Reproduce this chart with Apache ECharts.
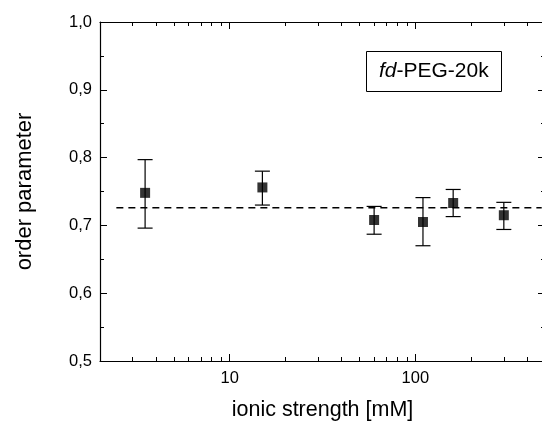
<!DOCTYPE html>
<html>
<head>
<meta charset="utf-8">
<script src="https://cdn.jsdelivr.net/npm/echarts@6/dist/echarts.min.js"></script>
<style>html,body{margin:0;padding:0;background:#fff}#c{width:542px;height:421px}</style>
</head>
<body>
<div id="c"></div>
<script>
// ---- data ----
var ionicStrength = [3.5, 15, 60, 110, 160, 300];
var orderParam    = [0.748, 0.756, 0.708, 0.705, 0.733, 0.715];
var errLow        = [0.696, 0.730, 0.687, 0.670, 0.713, 0.694];
var errHigh       = [0.797, 0.780, 0.728, 0.741, 0.753, 0.734];
var meanLevel     = 0.726;
var meanRangeX    = [2.45, 480];
var xMajorTicks   = [10, 100];
var xMinorTicks   = [3,4,5,6,7,8,9,20,30,40,50,60,70,80,90,200,300,400];
var xLabel = 'ionic strength [mM]';
var yLabel = 'order parameter';

var FONT = "'Liberation Sans', Arial, Helvetica, sans-serif";
var chart = echarts.init(document.getElementById('c'), null, {renderer:'canvas'});

function logAxis(pos, ticks, len, showLine, labels, extra){
  var a = {
    type:'log', logBase:10, min:2, max:500, position:pos, gridIndex:0,
    axisLine:{show:showLine, onZero:false, lineStyle:{color:'#000', width:1.2}},
    axisTick:{show:true, inside:true, length:len, customValues:ticks, lineStyle:{color:'#000', width:1}},
    axisLabel:{show:labels, customValues:labels ? ticks : undefined, fontFamily:FONT, fontSize:16.5, color:'#000', margin:9},
    splitLine:{show:false}, minorTick:{show:false}
  };
  if (extra) for (var k in extra) a[k] = extra[k];
  return a;
}
function valAxis(pos, labels, extra){
  var a = {
    type:'value', min:0.5, max:1.0, interval:0.1, position:pos, gridIndex:0,
    axisLine:{show:true, onZero:false, lineStyle:{color:'#000', width:1.2}},
    axisTick:{show:true, inside:true, length:7, lineStyle:{color:'#000', width:1}},
    minorTick:{show:true, splitNumber:2, length:4, lineStyle:{color:'#000', width:1}},
    axisLabel:{show:labels, fontFamily:FONT, fontSize:16.5, color:'#000', margin:8,
      formatter:function(v){return v.toFixed(1).replace('.', ',');}},
    splitLine:{show:false}
  };
  if (extra) for (var k in extra) a[k] = extra[k];
  return a;
}

var scatterData = ionicStrength.map(function(x,i){return [x, orderParam[i]];});
var errData = ionicStrength.map(function(x,i){return [x, errLow[i], errHigh[i]];});

chart.setOption({
  animation:false,
  backgroundColor:'#fff',
  title:{
    text:'{i|fd}-PEG-20k', left:366, top:51,
    padding:[10, 13, 10, 13],
    borderColor:'#000', borderWidth:1,
    textStyle:{fontFamily:FONT, fontSize:21, fontWeight:'normal', color:'#000',
      rich:{i:{fontFamily:FONT, fontSize:21, fontStyle:'italic', color:'#000'}}}
  },
  grid:{left:100, top:22, right:-3, bottom:60, containLabel:false, outerBoundsMode:'none'},
  xAxis:[
    logAxis('bottom', xMajorTicks, 7, true, true, {name:xLabel, nameLocation:'middle', nameGap:38,
      nameTextStyle:{fontFamily:FONT, fontSize:21.5, color:'#000'}}),
    logAxis('bottom', xMinorTicks, 4, false, false),
    logAxis('top', xMajorTicks, 7, true, false),
    logAxis('top', xMinorTicks, 4, false, false)
  ],
  yAxis:[
    valAxis('left', true, {name:yLabel, nameLocation:'middle', nameGap:64, nameRotate:90,
      nameTextStyle:{fontFamily:FONT, fontSize:22, color:'#000'}}),
    valAxis('right', false)
  ],
  series:[
    {type:'line', xAxisIndex:0, yAxisIndex:0, data:[[meanRangeX[0], meanLevel],[meanRangeX[1], meanLevel]],
      symbol:'none', lineStyle:{color:'#000', width:1.3, type:[7,5]}, z:1},
    {type:'custom', xAxisIndex:0, yAxisIndex:0, data:errData, encode:{x:0, y:[1,2]}, z:2,
      renderItem:function(params, api){
        var x = api.value(0);
        var lo = api.coord([x, api.value(1)]);
        var hi = api.coord([x, api.value(2)]);
        var hw = 7.5;
        var st = {stroke:'#000', lineWidth:1.2};
        return {type:'group', children:[
          {type:'line', shape:{x1:lo[0], y1:lo[1], x2:hi[0], y2:hi[1]}, style:st},
          {type:'line', shape:{x1:lo[0]-hw, y1:lo[1], x2:lo[0]+hw, y2:lo[1]}, style:st},
          {type:'line', shape:{x1:hi[0]-hw, y1:hi[1], x2:hi[0]+hw, y2:hi[1]}, style:st}
        ]};
      }},
    {type:'scatter', xAxisIndex:0, yAxisIndex:0, data:scatterData, symbol:'rect', symbolSize:10,
      itemStyle:{color:'#000'}, z:3}
  ]
});
</script>
</body>
</html>
